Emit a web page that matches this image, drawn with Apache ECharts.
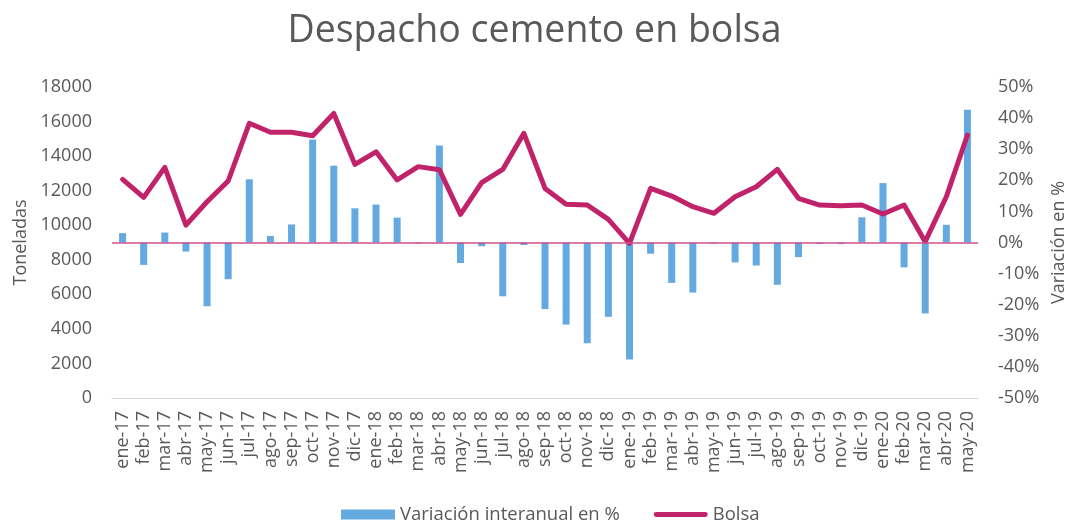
<!DOCTYPE html>
<html>
<head>
<meta charset="utf-8">
<script src="https://cdn.jsdelivr.net/npm/echarts@6/dist/echarts.min.js"></script>
<style>
  html, body { margin: 0; padding: 0; background: #fff; }
  #main { width: 1069px; height: 520px; }
</style>
</head>
<body>
<div id="main"></div>
<script>
// meses
var meses = ['ene-17','feb-17','mar-17','abr-17','may-17','jun-17','jul-17','ago-17','sep-17','oct-17','nov-17','dic-17',
  'ene-18','feb-18','mar-18','abr-18','may-18','jun-18','jul-18','ago-18','sep-18','oct-18','nov-18','dic-18',
  'ene-19','feb-19','mar-19','abr-19','may-19','jun-19','jul-19','ago-19','sep-19','oct-19','nov-19','dic-19',
  'ene-20','feb-20','mar-20','abr-20','may-20'];

// toneladas (eje izquierdo)
var bolsa = [12650,11610,13350,10010,11360,12560,15900,15380,15380,15180,16470,13520,
  14250,12620,13390,13210,10630,12460,13230,15320,12130,11210,11170,10340,
  8950,12130,11690,11070,10690,11650,12230,13230,11560,11170,11130,11170,
  10650,11170,9050,11650,15220];

// variacion interanual en % (eje derecho)
var variacion = [3.0,-7.2,3.2,-2.9,-20.5,-11.8,20.3,2.1,5.8,33.1,24.7,11.0,
  12.2,8.0,-0.3,31.2,-6.6,-1.2,-17.3,-0.8,-21.4,-26.4,-32.4,-23.9,
  -37.6,-3.6,-13.0,-16.1,-0.3,-6.4,-7.4,-13.6,-4.7,-0.5,-0.5,8.1,
  19.1,-8.0,-22.8,5.7,42.7];

var gris = '#595959';
var fuente = '"Open Sans", "Noto Sans", sans-serif';

var chart = echarts.init(document.getElementById('main'));
var option = {
  animation: false,
  textStyle: { fontFamily: fuente },
  title: {
    text: 'Despacho cemento en bolsa',
    left: 'center',
    top: 7,
    textStyle: { fontFamily: fuente, fontSize: 37.5, fontWeight: 'normal', color: gris }
  },
  legend: {
    top: 500,
    left: 336,
    itemGap: 34,
    itemWidth: 54,
    itemHeight: 10,
    textStyle: { fontFamily: fuente, fontSize: 18.5, color: gris },
    data: [
      { name: 'Variación interanual en %', icon: 'rect' },
      { name: 'Bolsa', icon: 'path://M2.5,0 H53.5 A2.5,2.5 0 0 1 53.5,5 H2.5 A2.5,2.5 0 0 1 2.5,0 Z' }
    ]
  },
  grid: { left: 112, right: 91, top: 87, bottom: 122, outerBoundsMode: 'none', containLabel: false },
  xAxis: {
    type: 'category',
    data: meses,
    axisLine: { lineStyle: { color: '#d9d9d9' } },
    axisTick: { lineStyle: { color: '#d9d9d9' }, length: 6 },
    axisLabel: { rotate: 90, interval: 0, fontSize: 18, color: gris, margin: 13 }
  },
  yAxis: [
    {
      type: 'value',
      min: 0, max: 18000, interval: 2000,
      name: 'Toneladas',
      nameLocation: 'middle',
      nameGap: 82,
      nameTextStyle: { fontSize: 18, color: gris },
      axisLine: { show: false },
      axisTick: { show: false },
      splitLine: { show: false },
      axisLabel: { fontSize: 18, color: gris, margin: 20, formatter: function (v) { return String(v); } }
    },
    {
      type: 'value',
      min: -50, max: 50, interval: 10,
      name: 'Variación en %',
      nameLocation: 'middle',
      nameGap: 72,
      nameRotate: 90,
      nameTextStyle: { fontSize: 18, color: gris },
      axisLine: { show: false },
      axisTick: { show: false },
      splitLine: { show: false },
      axisLabel: { fontSize: 18, color: gris, margin: 20, formatter: '{value}%' }
    }
  ],
  series: [
    {
      name: 'Variación interanual en %',
      type: 'bar',
      yAxisIndex: 1,
      data: variacion,
      barWidth: 7,
      itemStyle: { color: '#64a9e0' },
      markLine: {
        silent: true,
        symbol: 'none',
        label: { show: false },
        lineStyle: { color: '#d0508c', width: 1.5, type: 'solid' },
        data: [{ yAxis: 0 }]
      }
    },
    {
      name: 'Bolsa',
      type: 'line',
      yAxisIndex: 0,
      data: bolsa,
      symbol: 'none',
      lineStyle: { color: '#c0236a', width: 5, join: 'round', cap: 'round' },
      itemStyle: { color: '#c0236a' },
      z: 3
    }
  ]
};
chart.setOption(option);
</script>
</body>
</html>
